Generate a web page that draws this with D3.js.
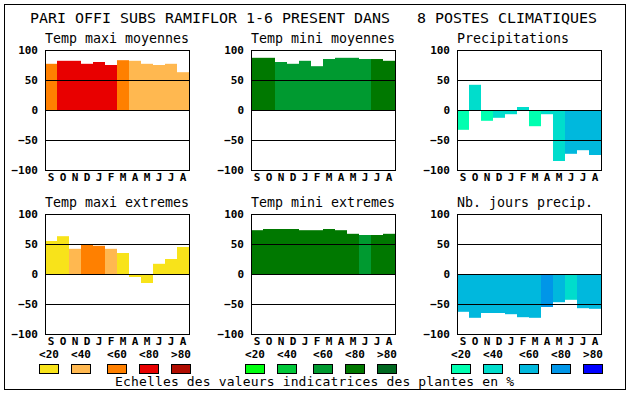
<!DOCTYPE html>
<html>
<head>
<meta charset="utf-8">
<script src="https://cdn.jsdelivr.net/npm/d3@7"></script>
<style>
  body { margin: 0; background: #fff; }
  svg { display: block; }
  text { font-family: "DejaVu Sans Mono", monospace; fill: #000; white-space: pre; }
</style>
</head>
<body>
<svg></svg>
<script>
// months from September to August
let months = ["S", "O", "N", "D", "J", "F", "M", "A", "M", "J", "J", "A"]
let yTicks = [100, 50, 0, -50, -100]
let gridValues = [50, 0, -50]
let classLabels = ["<20", "<40", "<60", "<80", ">80"]

let warmColors = ["#f8e31a", "#ffb850", "#ff8000", "#e80000", "#b00c00"]
let greenColors = ["#00ff10", "#00c83a", "#009a30", "#007800", "#006820"]
let blueColors = ["#00ffb0", "#00ddcc", "#00b8dd", "#0096e8", "#0000ff"]

let mainTitle = "PARI OFFI SUBS RAMIFLOR 1-6 PRESENT DANS   8 POSTES CLIMATIQUES"
let footer = "Echelles des valeurs indicatrices des plantes en %"

let panelTitles = ["Temp maxi moyennes", "Temp mini moyennes", "Precipitations",
                   "Temp maxi extremes", "Temp mini extremes", "Nb. jours precip."]

// bar values (-100..100)
let maxiMoyValues = [77, 82, 82, 77, 80, 75, 83, 82, 77, 75, 77, 63]
let miniMoyValues = [87, 87, 80, 77, 82, 73, 85, 87, 87, 85, 85, 82]
let precipValues = [-33, 42, -18, -13, -7, 5, -27, -7, -85, -73, -67, -75]
let maxiExtValues = [55, 63, 42, 50, 47, 42, 35, -5, -15, 17, 25, 45]
let miniExtValues = [73, 75, 75, 75, 73, 73, 75, 73, 67, 65, 65, 67]
let joursValues = [-63, -73, -65, -65, -67, -72, -73, -55, -47, -43, -57, -58]

// indicator class of each bar (index into the colour scale)
let maxiMoyClasses = [2, 3, 3, 3, 3, 3, 2, 1, 1, 1, 1, 1]
let miniMoyClasses = [3, 3, 2, 2, 2, 2, 2, 2, 2, 2, 3, 3]
let precipClasses = [0, 1, 0, 1, 1, 1, 0, 1, 1, 2, 2, 2]
let maxiExtClasses = [0, 0, 1, 2, 2, 1, 0, 0, 0, 0, 0, 0]
let miniExtClasses = [3, 3, 3, 3, 3, 3, 3, 3, 3, 2, 3, 3]
let joursClasses = [2, 2, 2, 2, 2, 2, 2, 3, 2, 1, 2, 2]

let width = 630
let height = 394
let plotW = 144
let plotH = 120
let colLeft = [45, 251, 457]
let rowTop = [50, 214]

let panels = [
  { title: panelTitles[0], values: maxiMoyValues, classes: maxiMoyClasses, colors: warmColors, col: 0, row: 0 },
  { title: panelTitles[1], values: miniMoyValues, classes: miniMoyClasses, colors: greenColors, col: 1, row: 0 },
  { title: panelTitles[2], values: precipValues, classes: precipClasses, colors: blueColors, col: 2, row: 0 },
  { title: panelTitles[3], values: maxiExtValues, classes: maxiExtClasses, colors: warmColors, col: 0, row: 1 },
  { title: panelTitles[4], values: miniExtValues, classes: miniExtClasses, colors: greenColors, col: 1, row: 1 },
  { title: panelTitles[5], values: joursValues, classes: joursClasses, colors: blueColors, col: 2, row: 1 }
]

let svg = d3.select("svg")
  .attr("width", width)
  .attr("height", height)

let xScale = d3.scaleBand()
  .domain(d3.range(months.length))
  .range([0, plotW])
  .padding(0)

let yScale = d3.scaleLinear()
  .domain([-100, 100])
  .range([plotH, 0])

// outer frame
svg.append("rect")
  .attr("x", 4.5)
  .attr("y", 4.5)
  .attr("width", 621)
  .attr("height", 385)
  .attr("fill", "none")
  .attr("stroke", "#000")

svg.append("text")
  .attr("x", 30)
  .attr("y", 23)
  .attr("textLength", 567)
  .attr("lengthAdjust", "spacingAndGlyphs")
  .attr("xml:space", "preserve")
  .style("font-size", "14px")
  .text(mainTitle)

let drawPanel = (p) => {
  let g = svg.append("g")
    .attr("transform", "translate(" + colLeft[p.col] + ", " + rowTop[p.row] + ")")

  g.append("text")
    .attr("x", 0)
    .attr("y", -7)
    .style("font-size", "13.3px")
    .text(p.title)

  g.selectAll("rect.bar")
    .data(p.values)
    .enter()
    .append("rect")
    .attr("class", "bar")
    .attr("x", (d, i) => xScale(i))
    .attr("width", xScale.bandwidth())
    .attr("y", d => yScale(Math.max(0, d)))
    .attr("height", d => Math.abs(yScale(d) - yScale(0)))
    .attr("fill", (d, i) => p.colors[p.classes[i]])

  g.selectAll("line.grid")
    .data(gridValues)
    .enter()
    .append("line")
    .attr("class", "grid")
    .attr("x1", 0)
    .attr("x2", plotW)
    .attr("y1", d => Math.round(yScale(d)) + 0.5)
    .attr("y2", d => Math.round(yScale(d)) + 0.5)
    .attr("stroke", "#000")

  g.append("rect")
    .attr("x", 0.5)
    .attr("y", 0.5)
    .attr("width", plotW)
    .attr("height", plotH)
    .attr("fill", "none")
    .attr("stroke", "#000")

  let yAxis = d3.axisLeft(yScale)
    .tickValues(yTicks)
    .tickSize(0)
    .tickPadding(7)
  let ya = g.append("g").call(yAxis)
  ya.select(".domain").remove()
  ya.selectAll("text")
    .style("font-size", "11px")
    .style("font-weight", "bold")

  let xAxis = d3.axisBottom(xScale)
    .tickFormat(i => months[i])
    .tickSize(0)
    .tickPadding(3)
  let xa = g.append("g")
    .attr("transform", "translate(0, " + plotH + ")")
    .call(xAxis)
  xa.select(".domain").remove()
  xa.selectAll("text")
    .style("font-size", "11px")
    .style("font-weight", "bold")
    .attr("dy", "0.71em")
}

panels.forEach(drawPanel)

// legend: one colour scale under each column (centres relative to the panel)
let legendCentres = [4, 36, 72, 104, 136]
let legendColors = [warmColors, greenColors, blueColors]

legendColors.forEach((colors, c) => {
  let lg = svg.append("g")
    .attr("transform", "translate(" + colLeft[c] + ", 0)")

  lg.selectAll("text.lab")
    .data(classLabels)
    .enter()
    .append("text")
    .attr("class", "lab")
    .attr("x", (d, i) => legendCentres[i])
    .attr("y", 358)
    .attr("text-anchor", "middle")
    .style("font-size", "11px")
    .style("font-weight", "bold")
    .text(d => d)

  lg.selectAll("rect.sw")
    .data(colors)
    .enter()
    .append("rect")
    .attr("class", "sw")
    .attr("x", (d, i) => legendCentres[i] - 9.5)
    .attr("y", 364.5)
    .attr("width", 19)
    .attr("height", 9)
    .attr("fill", d => d)
    .attr("stroke", "#000")
})

svg.append("text")
  .attr("x", 115)
  .attr("y", 386)
  .attr("textLength", 399)
  .style("font-size", "13px")
  .text(footer)
</script>
</body>
</html>
